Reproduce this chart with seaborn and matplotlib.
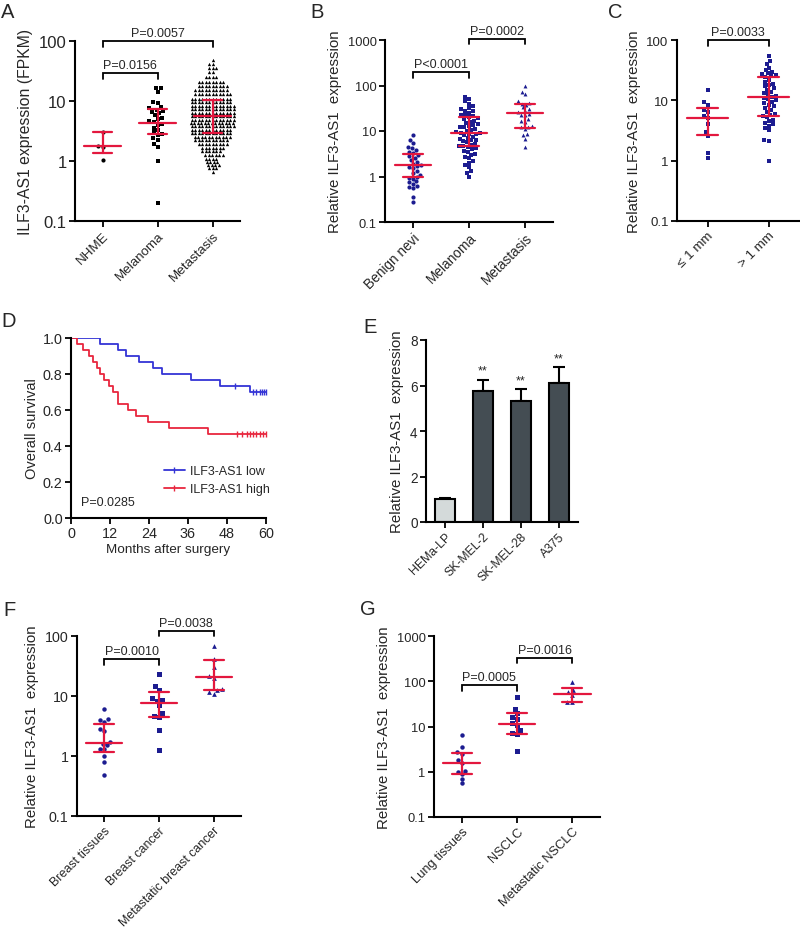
import numpy as np
import matplotlib
matplotlib.use("Agg")
import matplotlib.pyplot as plt
import seaborn as sns
from matplotlib.lines import Line2D
from matplotlib.ticker import FixedLocator, NullLocator, FuncFormatter

sns.set_style("ticks")
plt.rcParams["font.family"] = ["Liberation Sans", "DejaVu Sans"]

RED = "#e3173e"
NAVY = "#1c1c90"
YLAB = "Relative ILF3-AS1  expression"

# ---------------- A: TCGA (FPKM) ----------------
a_groups = ["NHME", "Melanoma", "Metastasis"]
a_nhme = [3.0, 1.8, 1.7, 1.05]
a_melanoma = [16.5, 16.5, 14, 9.5, 9.2, 8.0, 7.5, 7.2, 6.8, 6.5, 6.2, 5.8, 5.3, 5.0,
              4.6, 4.4, 4.2, 4.0, 3.6, 3.3, 3.0, 2.8, 2.7, 2.4, 2.2, 1.9, 1.7, 1.0, 0.2]
# metastasis swarm read row by row: value level -> number of points in that row
a_meta_levels = [48, 42, 36, 30, 25, 21, 18, 15, 13, 11, 9.5, 8.3, 7.3, 6.4, 5.6, 4.9,
                 4.3, 3.8, 3.3, 2.9, 2.5, 2.2, 1.9, 1.65, 1.45, 1.25, 1.1, 0.95, 0.85,
                 0.75, 0.65]
a_meta_counts = [1, 2, 3, 2, 4, 8, 9, 10, 11, 12, 12, 13, 13, 13, 13, 13,
                 13, 13, 12, 12, 11, 10, 9, 7, 6, 6, 4, 4, 4, 3, 1]
a_med = [1.8, 4.3, 5.6]
a_q1 = [1.36, 2.8, 2.9]
a_q3 = [3.0, 7.3, 10.4]

# ---------------- B: tissues ----------------
b_groups = ["Benign nevi", "Melanoma", "Metastasis"]
b_nevi = [8.0, 6.5, 5.5, 4.5, 4.2, 3.8, 3.5, 3.3, 3.0, 2.8, 2.6, 2.3, 2.1, 1.9, 1.8,
          1.7, 1.6, 1.5, 1.35, 1.2, 1.1, 1.0, 0.95, 0.9, 0.8, 0.75, 0.7, 0.62, 0.58,
          0.55, 0.36, 0.28]
b_melanoma = [56, 50, 45, 40, 35, 32, 30, 28, 27, 25, 23, 22, 21, 20, 19, 18, 17, 16,
              15, 14, 13.5, 13, 12.5, 12, 11, 10.5, 10, 9.5, 9.2, 9, 8.8, 8.5, 8, 7.5,
              7, 6.8, 6.5, 6.2, 6, 5.6, 5.3, 5, 4.8, 4.6, 4.4, 4.2, 4, 3.7, 3.5, 3.2,
              3, 2.7, 2.5, 2.2, 2, 1.8, 1.6, 1.3, 1.2, 1.0]
b_meta = [100, 73, 65, 45, 42, 40, 38, 33, 30, 28, 26, 24, 23, 22, 18, 17, 16, 13,
          12.5, 12, 11, 8.6, 8, 6.7, 4.4]
b_med = [1.8, 9.2, 24.4]
b_q1 = [0.97, 4.7, 11.9]
b_q3 = [3.1, 20, 40]

# ---------------- C: thickness ----------------
c_groups = ["\u2264 1 mm", "> 1 mm"]
c_thin = [15, 9.5, 8.5, 7.0, 6.3, 5.5, 5.1, 4.0, 3.0, 2.6, 1.35, 1.1]
c_thick = [55, 45, 40, 35, 32, 30, 28, 27, 26, 25, 24, 22, 20, 19, 18, 17, 16, 15, 14,
           13, 12.5, 12, 11.5, 11, 10.5, 10, 9.5, 9, 8.5, 8, 7.5, 7, 6.5, 6, 5.8, 5.5,
           5.2, 4.8, 4.5, 4.2, 4, 3.8, 3.5, 3.2, 2.2, 2.1, 1.0]
c_med = [5.1, 11.5]
c_q1 = [2.7, 5.6]
c_q3 = [7.5, 24]

# ---------------- D: survival ----------------
d_low_t = [0, 9, 14.6, 17, 20.8, 25.3, 27.9, 37, 45.8, 55]
d_low_s = [1.0, 0.967, 0.933, 0.9, 0.867, 0.833, 0.8, 0.767, 0.733, 0.70]
d_low_cens_t = [50.5, 56, 57, 58, 58.8, 59.5, 60]
d_low_cens_s = [0.733, 0.70, 0.70, 0.70, 0.70, 0.70, 0.70]
d_high_t = [0, 1.9, 3.6, 5.6, 6.9, 7.9, 8.9, 10.2, 11.8, 13, 14.6, 17.4, 20, 23.8, 30, 42]
d_high_s = [1.0, 0.967, 0.933, 0.9, 0.867, 0.833, 0.8, 0.767, 0.733, 0.70, 0.633, 0.60,
            0.567, 0.533, 0.50, 0.467]
d_high_cens_t = [51, 52.5, 54, 55, 56, 57, 58, 59, 60]

# ---------------- E: cell lines ----------------
e_lines = ["HEMa-LP", "SK-MEL-2", "SK-MEL-28", "A375"]
e_mean = [1.0, 5.78, 5.33, 6.13]
e_sem = [0.06, 0.48, 0.52, 0.68]
e_colors = ["#d3dbdb", "#424d55", "#424d55", "#424d55"]
e_stars = ["", "**", "**", "**"]

# ---------------- F: breast ----------------
f_groups = ["Breast tissues", "Breast cancer", "Metastatic breast cancer"]
f_normal = [6.0, 4.1, 4.0, 3.7, 2.8, 2.6, 1.7, 1.6, 1.5, 1.3, 1.3, 1.0, 0.78, 0.48]
f_cancer = [23.5, 14.5, 12.8, 9.2, 8.7, 8.3, 7.0, 5.2, 4.7, 4.5, 2.7, 1.25]
f_meta = [68, 42, 30, 21.5, 20, 13, 12.5, 11.5, 11]
f_med = [1.65, 7.5, 21]
f_q1 = [1.15, 4.5, 12.8]
f_q3 = [3.4, 11.5, 40]

# ---------------- G: lung ----------------
g_groups = ["Lung tissues", "NSCLC", "Metastatic NSCLC"]
g_normal = [6.5, 3.6, 2.7, 2.5, 1.8, 1.6, 1.05, 1.0, 0.9, 0.7, 0.55]
g_cancer = [44, 24.5, 19.5, 16, 14.5, 11.7, 11, 8.5, 7.2, 6.8, 2.9]
g_meta = [98, 65, 58, 50, 35, 34]
g_med = [1.6, 11.5, 52]
g_q1 = [0.9, 6.8, 35]
g_q3 = [2.6, 19.5, 70]


def style_axis(ax, ysize=10, xsize=9.6):
    sns.despine(ax=ax)
    for s in ("left", "bottom"):
        ax.spines[s].set_linewidth(1.5)
        ax.spines[s].set_color("black")
    ax.tick_params(width=1.3, length=4, color="black", pad=2)
    ax.tick_params(axis="y", labelsize=ysize)
    ax.tick_params(axis="x", labelsize=xsize)


def log_ticks(ax, top):
    decades = [0.1, 1, 10, 100, 1000][: [100, 1000].index(top) + 4]
    ax.set_ylim(0.1, top)
    ax.yaxis.set_major_locator(FixedLocator(decades))
    ax.yaxis.set_minor_locator(NullLocator())
    ax.yaxis.set_major_formatter(FuncFormatter(lambda v, p: f"{v:g}"))


def dot_panel(ax, groups, series, markers, sizes, color, med, q1, q3, top, ylabel,
              ysize=9.5, xsize=9.6, labsize=10.8):
    ax.set_yscale("log")
    for g, vals, m, s in zip(groups, series, markers, sizes):
        sns.swarmplot(x=[g] * len(vals), y=vals, order=groups, marker=m, size=s,
                      color=color, linewidth=0, ax=ax)
    for i in range(len(groups)):
        ax.plot([i - 0.33, i + 0.33], [med[i]] * 2, color=RED, lw=1.6, zorder=5)
        ax.plot([i - 0.18, i + 0.18], [q1[i]] * 2, color=RED, lw=1.6, zorder=5)
        ax.plot([i - 0.18, i + 0.18], [q3[i]] * 2, color=RED, lw=1.6, zorder=5)
        ax.plot([i, i], [q1[i], q3[i]], color=RED, lw=1.6, zorder=5)
    log_ticks(ax, top)
    ax.set_xlim(-0.5, len(groups) - 0.5)
    ax.set_xlabel("")
    ax.set_ylabel(ylabel, fontsize=labsize, labelpad=4)
    style_axis(ax, ysize, xsize)
    ax.set_xticks(range(len(groups)))
    ax.set_xticklabels(groups, rotation=45, ha="right", rotation_mode="anchor")


def bracket(ax, x0, x1, top, leg, text):
    ax.plot([x0, x0, x1, x1], [leg, top, top, leg], color="black", lw=1.3,
            clip_on=False, solid_joinstyle="miter")
    ax.annotate(text, xy=((x0 + x1) / 2, top), xytext=(0, 1.5),
                textcoords="offset points", ha="center", va="bottom",
                fontsize=9, annotation_clip=False)


W, H = 800, 928
fig = plt.figure(figsize=(W / 100, H / 100), dpi=100)


def add_axes(x0, y0, x1, y1):
    return fig.add_axes([x0 / W, 1 - y1 / H, (x1 - x0) / W, (y1 - y0) / H])


# A
ax = add_axes(75, 42, 240, 222)
dot_panel(ax, a_groups, [a_nhme, a_melanoma, np.repeat(a_meta_levels, a_meta_counts)],
          ["o", "s", "^"], [3.0, 3.2, 2.4], "black", a_med, a_q1, a_q3, 100,
          "ILF3-AS1 expression (FPKM)", ysize=12, xsize=9.6, labsize=11.3)
bracket(ax, 0, 1, 29, 23, "P=0.0156")
bracket(ax, 0, 2, 100, 80, "P=0.0057")

# B
ax = add_axes(385, 41, 553, 223)
dot_panel(ax, b_groups, [b_nevi, b_melanoma, b_meta], ["o", "s", "^"], [3.0, 3.0, 2.8],
          NAVY, b_med, b_q1, b_q3, 1000, YLAB, ysize=9.3, xsize=9.8)
bracket(ax, 0, 1, 195, 144, "P<0.0001")
bracket(ax, 1, 2, 1050, 812, "P=0.0002")

# C
ax = add_axes(677, 41, 799, 222)
dot_panel(ax, c_groups, [c_thin, c_thick], ["s", "s"], [3.0, 3.0], NAVY,
          c_med, c_q1, c_q3, 100, YLAB, ysize=9.5, xsize=9.6)
bracket(ax, 0, 1, 100, 80, "P=0.0033")

# D
ax = add_axes(71, 339, 266, 519)
BLUE_D = "#3434d6"
RED_D = "#e8263e"
sns.lineplot(x=d_low_t + [60], y=d_low_s + [d_low_s[-1]], drawstyle="steps-post",
             color=BLUE_D, lw=1.3, ax=ax, estimator=None)
sns.lineplot(x=d_high_t + [60], y=d_high_s + [d_high_s[-1]], drawstyle="steps-post",
             color=RED_D, lw=1.3, ax=ax, estimator=None)
ax.plot(d_low_cens_t, d_low_cens_s, "|", color=BLUE_D, ms=4, mew=1, clip_on=False)
ax.plot(d_high_cens_t, [d_high_s[-1]] * len(d_high_cens_t), "|", color=RED_D, ms=4,
        mew=1, clip_on=False)
ax.set_xlim(0, 60)
ax.set_ylim(0, 1.0)
ax.set_xticks([0, 12, 24, 36, 48, 60])
ax.set_yticks([0.0, 0.2, 0.4, 0.6, 0.8, 1.0])
ax.yaxis.set_major_formatter(FuncFormatter(lambda v, p: f"{v:.1f}"))
ax.set_xlabel("Months after surgery", fontsize=9.7, labelpad=2)
ax.set_ylabel("Overall survival", fontsize=10.5, labelpad=3)
style_axis(ax, 10.4, 10.4)
handles = [Line2D([], [], color=BLUE_D, lw=1.3, marker="|", ms=4, mew=1),
           Line2D([], [], color=RED_D, lw=1.3, marker="|", ms=4, mew=1)]
ax.legend(handles, ["ILF3-AS1 low", "ILF3-AS1 high"], loc="lower left",
          bbox_to_anchor=(0.45, 0.1), frameon=False, fontsize=9, handlelength=1.7,
          handletextpad=0.4, labelspacing=0.45, numpoints=1, borderaxespad=0)
ax.text(3, 0.09, "P=0.0285", fontsize=9, ha="left", va="center")

# E
ax = add_axes(426, 341, 578, 523)
sns.barplot(x=e_lines, y=e_mean, hue=e_lines, palette=e_colors, legend=False,
            width=0.53, edgecolor="black", linewidth=1.5, ax=ax, zorder=2)
ax.errorbar(range(len(e_lines)), e_mean, yerr=[np.zeros(len(e_mean)), e_sem],
            fmt="none", ecolor="black", elinewidth=1.5, capsize=4.5, capthick=1.5,
            zorder=1)
for i, (m, s, st) in enumerate(zip(e_mean, e_sem, e_stars)):
    ax.text(i, m + s + 0.12, st, ha="center", va="bottom", fontsize=9)
ax.set_ylim(0, 8)
ax.set_yticks([0, 2, 4, 6, 8])
ax.set_xlim(-0.5, 3.5)
ax.set_ylabel(YLAB, fontsize=10.8, labelpad=4)
style_axis(ax, 9.8, 8.8)
ax.set_xticks(range(len(e_lines)))
ax.set_xticklabels(e_lines, rotation=45, ha="right", rotation_mode="anchor")

# F
ax = add_axes(77, 637, 241, 817)
dot_panel(ax, f_groups, [f_normal, f_cancer, f_meta], ["o", "s", "^"], [3.2, 3.6, 3.4],
          NAVY, f_med, f_q1, f_q3, 100, YLAB, ysize=10.3, xsize=8.9)
bracket(ax, 0, 1, 41, 33, "P=0.0010")
bracket(ax, 1, 2, 122, 99, "P=0.0038")

# G
ax = add_axes(434, 637, 600, 818)
dot_panel(ax, g_groups, [g_normal, g_cancer, g_meta], ["o", "s", "^"], [3.2, 3.6, 3.4],
          NAVY, g_med, g_q1, g_q3, 1000, YLAB, ysize=9.3, xsize=9.3)
bracket(ax, 0, 1, 83, 62, "P=0.0005")
bracket(ax, 1, 2, 331, 252, "P=0.0016")

# panel letters
for lab, x, y in [("A", 1, 3), ("B", 310, 3), ("C", 608, 3), ("D", 1, 312),
                  ("E", 363, 318), ("F", 3, 601), ("G", 360, 600)]:
    fig.text(x / W, 1 - y / H, lab, fontsize=14.5, ha="left", va="top")

fig.savefig("out.png", dpi=100)
